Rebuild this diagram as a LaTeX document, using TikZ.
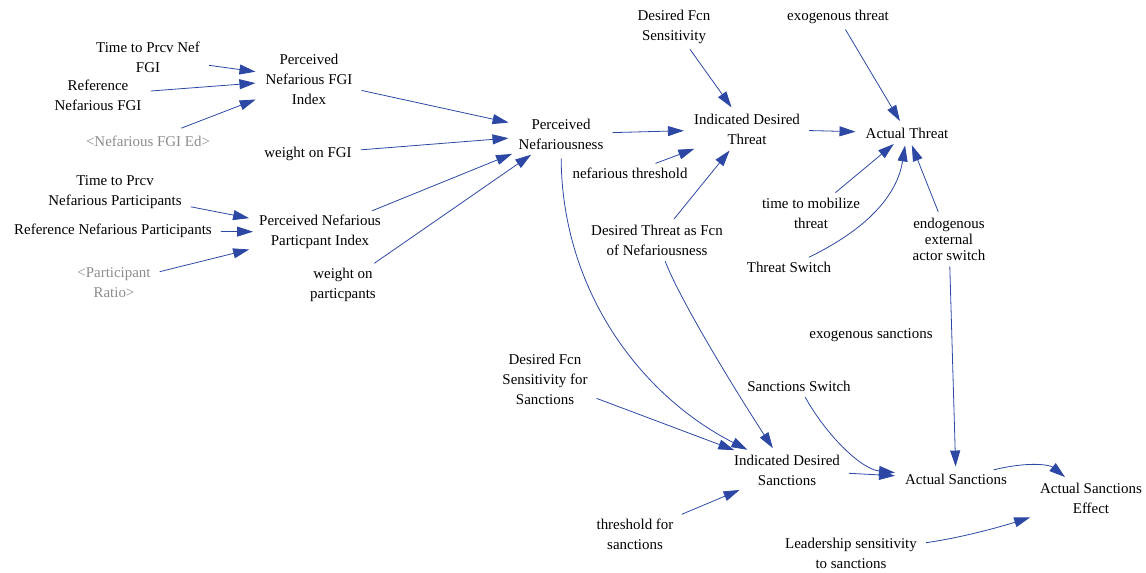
\documentclass[tikz,border=0pt]{standalone}
\usepackage{fontspec}
\setmainfont{Liberation Serif}
\usetikzlibrary{arrows.meta}
\definecolor{arrowblue}{RGB}{44,72,164}
\definecolor{shadowgray}{RGB}{140,140,140}
\begin{document}
\begin{tikzpicture}[>={Triangle[length=16bp,width=10bp]},line join=bevel,
  var/.style={align=center,inner xsep=6bp,inner ysep=3bp,font=\fontsize{15}{20}\selectfont},
  shadow/.style={var,text=shadowgray},
  link/.style={arrowblue,line width=0.8bp,->,shorten >=4bp,shorten <=3bp}]
\useasboundingbox (0bp,0bp) rectangle (1146bp,573bp);
%%
\node (node_tpfgi) at (148bp,516bp) [var] {Time to Prcv Nef\\FGI};
  \node (node_reffgi) at (98bp,478bp) [var] {Reference\\Nefarious FGI};
  \node (node_fgied) at (148bp,432bp) [shadow] {<Nefarious FGI Ed>};
  \node (node_pfgi) at (309bp,494bp) [var] {Perceived\\Nefarious FGI\\Index};
  \node (node_wfgi) at (308bp,419bp) [var] {weight on FGI};
  \node (node_tppart) at (115bp,381bp) [var] {Time to Prcv\\Nefarious Participants};
  \node (node_refpart) at (113bp,342bp) [var] {Reference Nefarious Participants};
  \node (node_partratio) at (114bp,290bp) [shadow] {<Participant\\Ratio>};
  \node (node_ppart) at (320bp,341bp) [var] {Perceived Nefarious\\Particpant Index};
  \node (node_wpart) at (343bp,288bp) [var] {weight on\\particpants};
  \node (node_pnef) at (561bp,439bp) [var] {Perceived\\Nefariousness};
  \node (node_nefthr) at (630bp,400bp) [var] {nefarious threshold};
  \node (node_idt) at (747bp,444bp) [var] {Indicated Desired\\Threat};
  \node (node_dfs) at (674bp,546bp) [var] {Desired Fcn\\Sensitivity};
  \node (node_exthr) at (838bp,556bp) [var] {exogenous threat};
  \node (node_athr) at (907bp,440bp) [var] {Actual Threat};
  \node (node_dtf) at (657bp,333bp) [var] {Desired Threat as Fcn\\of Nefariousness};
  \node (node_tmob) at (811bp,360bp) [var] {time to mobilize\\threat};
  \node (node_tsw) at (789bp,306bp) [var] {Threat Switch};
  \node (node_endo) at (949bp,334bp) [var,font=\fontsize{15}{16}\selectfont] {endogenous\\external\\actor switch};
  \node (node_exsanc) at (871bp,238bp) [var] {exogenous sanctions};
  \node (node_ssw) at (799bp,187bp) [var] {Sanctions Switch};
  \node (node_dfss) at (545bp,194bp) [var] {Desired Fcn\\Sensitivity for\\Sanctions};
  \node (node_ids) at (787bp,103bp) [var] {Indicated Desired\\Sanctions};
  \node (node_thrs) at (635bp,39bp) [var] {threshold for\\sanctions};
  \node (node_lead) at (851bp,20bp) [var] {Leadership sensitivity\\to sanctions};
  \node (node_asanc) at (956bp,94bp) [var] {Actual Sanctions};
  \node (node_aseff) at (1091bp,75bp) [var] {Actual Sanctions\\Effect};
%
  \draw [link] (node_tpfgi) -- (node_pfgi);
  \draw [link] (node_reffgi) -- (node_pfgi);
  \draw [link,shorten <=12bp] (node_fgied) -- (node_pfgi);
  \draw [link] (node_pfgi) -- (node_pnef);
  \draw [link] (node_wfgi) -- (node_pnef);
  \draw [link] (node_ppart) -- (node_pnef);
  \draw [link] (node_wpart) -- (node_pnef);
  \draw [link] (node_tppart) -- (node_ppart);
  \draw [link,shorten >=0bp] (node_refpart) -- (node_ppart);
  \draw [link] (node_partratio) -- (node_ppart);
  \draw [link] (node_pnef) -- (node_idt);
  \draw [link] (node_nefthr) -- (node_idt);
  \draw [link] (node_dfs) -- (node_idt);
  \draw [link] (node_dtf) -- (node_idt);
  \draw [link] (node_idt) -- (node_athr);
  \draw [link] (node_exthr) -- (node_athr);
  \draw [link] (node_tmob) -- (node_athr);
  \draw [link] (node_tsw) ..controls (875bp,348bp) and (898bp,383bp)  .. (node_athr);
  \draw [link] (node_endo) -- (node_athr);
  \draw [link] (node_endo) -- (node_asanc);
  \draw [link,shorten <=6bp] (node_pnef) ..controls (562bp,283bp) and (640bp,178bp)  .. (node_ids);
  \draw [link] (node_dtf) ..controls (680bp,273bp) and (735bp,183bp)  .. (node_ids);
  \draw [link] (node_dfss) -- (node_ids);
  \draw [link] (node_thrs) -- (node_ids);
  \draw [link] (node_ids) -- (node_asanc);
  \draw [link] (node_ssw) ..controls (825bp,140bp) and (860bp,104bp)  .. (node_asanc);
  \draw [link] (node_asanc) ..controls (1030bp,112bp) and (1050bp,108bp)  .. (node_aseff);
  \draw [link] (node_lead) ..controls (960bp,35bp) and (1000bp,46bp)  .. (node_aseff);
%
\end{tikzpicture}
\end{document}
